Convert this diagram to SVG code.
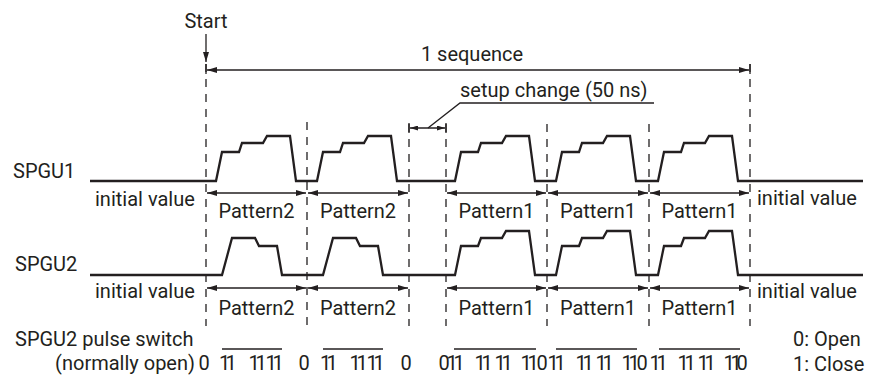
<svg xmlns="http://www.w3.org/2000/svg" width="872" height="376" viewBox="0 0 872 376">
<style>
text{font-family:Roboto,"Liberation Sans",sans-serif;font-size:20px;fill:#231f20}
.wave{fill:none;stroke:#231f20;stroke-width:2.3;stroke-linejoin:miter}
.dash{stroke:#231f20;stroke-width:1.3;stroke-dasharray:8 7;fill:none}
.arr{stroke:#231f20;stroke-width:1.3;fill:none;marker-start:url(#ah);marker-end:url(#ah)}
.ln{stroke:#231f20;stroke-width:1.3;fill:none}
.mid{text-anchor:middle}
</style>
<defs>
<marker id="ah" viewBox="0 0 10 6" refX="10" refY="3" markerWidth="10" markerHeight="6" markerUnits="userSpaceOnUse" orient="auto-start-reverse">
<path d="M0,0 L10,3 L0,6 Z" fill="#231f20"/>
</marker>
<marker id="ahs" viewBox="0 0 8 5" refX="8" refY="2.5" markerWidth="8" markerHeight="5" markerUnits="userSpaceOnUse" orient="auto-start-reverse">
<path d="M0,0 L8,2.5 L0,5 Z" fill="#231f20"/>
</marker>
</defs>

<g id="guides">
<line class="dash" x1="206" y1="64" x2="206" y2="326"/>
<line class="dash" x1="307" y1="122" x2="307" y2="326"/>
<line class="dash" x1="409" y1="124" x2="409" y2="326"/>
<line class="dash" x1="446" y1="124" x2="446" y2="326"/>
<line class="dash" x1="547" y1="124" x2="547" y2="326"/>
<line class="dash" x1="649" y1="124" x2="649" y2="326"/>
<line class="dash" x1="750" y1="64" x2="750" y2="326"/>
</g>

<g id="start">
<text class="mid" x="206" y="28">Start</text>
<line class="ln" x1="206" y1="34" x2="206" y2="62" marker-end="url(#ah)"/>
</g>

<g id="sequence">
<line class="ln" x1="206" y1="64" x2="206" y2="74"/>
<line class="ln" x1="750" y1="64" x2="750" y2="74"/>
<line class="arr" x1="207" y1="70" x2="749" y2="70"/>
<text class="mid" x="472" y="61">1 sequence</text>
</g>

<g id="setup-change">
<line class="ln" x1="409" y1="123" x2="409" y2="133"/>
<line class="ln" x1="446" y1="123" x2="446" y2="133"/>
<line class="ln" x1="410" y1="128" x2="445" y2="128" marker-start="url(#ahs)" marker-end="url(#ahs)"/>
<polyline class="ln" points="428,128 460,103 654,103"/>
<text x="460" y="97">setup change (50 ns)</text>
</g>

<g id="spgu1">
<text x="13" y="178">SPGU1</text>
<path class="wave" d="M90,181 H216 L222,152 H239 L242,143 H263 L267,136 H290 L296,181 H317 L323,152 H340 L343,143 H364 L368,136 H391 L397,181 H455 L461,152 H478 L481,143 H502 L506,136 H529 L535,181 H556 L562,152 H579 L582,143 H603 L607,136 H630 L636,181 H658 L664,152 H681 L684,143 H705 L709,136 H732 L738,181 H863"/>
<text x="95" y="206">initial value</text>
<text x="757" y="205">initial value</text>
<line class="arr" x1="207" y1="193" x2="306" y2="193"/>
<line class="arr" x1="308" y1="193" x2="408" y2="193"/>
<line class="arr" x1="447" y1="193" x2="546" y2="193"/>
<line class="arr" x1="548" y1="193" x2="648" y2="193"/>
<line class="arr" x1="650" y1="193" x2="749" y2="193"/>
<text class="mid" x="256.5" y="218">Pattern2</text>
<text class="mid" x="358" y="218">Pattern2</text>
<text class="mid" x="496.5" y="218">Pattern1</text>
<text class="mid" x="598" y="218">Pattern1</text>
<text class="mid" x="699.5" y="218">Pattern1</text>
</g>

<g id="spgu2">
<text x="15" y="271">SPGU2</text>
<path class="wave" d="M90,275 H222 L232,238 H255 L259,246 H277 L282,275 H323 L333,238 H356 L360,246 H378 L383,275 H455 L461,246 H478 L481,238 H502 L506,231 H529 L535,275 H556 L562,246 H579 L582,238 H603 L607,231 H630 L636,275 H658 L664,246 H681 L684,238 H705 L709,231 H732 L738,275 H863"/>
<text x="95" y="298">initial value</text>
<text x="757" y="298">initial value</text>
<line class="arr" x1="207" y1="288" x2="306" y2="288"/>
<line class="arr" x1="308" y1="288" x2="408" y2="288"/>
<line class="arr" x1="447" y1="288" x2="546" y2="288"/>
<line class="arr" x1="548" y1="288" x2="648" y2="288"/>
<line class="arr" x1="650" y1="288" x2="749" y2="288"/>
<text class="mid" x="256.5" y="315">Pattern2</text>
<text class="mid" x="358" y="315">Pattern2</text>
<text class="mid" x="496.5" y="315">Pattern1</text>
<text class="mid" x="598" y="315">Pattern1</text>
<text class="mid" x="699.5" y="315">Pattern1</text>
</g>

<g id="pulse-switch">
<text x="15" y="346">SPGU2 pulse switch</text>
<text x="195" y="370" style="text-anchor:end">(normally open)</text>
<line class="ln" x1="222" y1="349" x2="282" y2="349"/>
<line class="ln" x1="323" y1="349" x2="383" y2="349"/>
<line class="ln" x1="454" y1="349" x2="536" y2="349"/>
<line class="ln" x1="556" y1="349" x2="637" y2="349"/>
<line class="ln" x1="659" y1="349" x2="740" y2="349"/>
<text class="mid" y="370" x="204 224.5 231 254 261 271 278 304 325.5 332 355 362 372 379 406">011111101111110</text>
<text class="mid" y="370" x="444 452 459 480 487 500 507 526 533 542 553 560 581 588 601 608 627 634 642 655 662 683 690 703 710 729 736 742">0111111110111111110111111110</text>
<text x="793" y="346">0: Open</text>
<text x="793" y="371">1: Close</text>
</g>
</svg>
